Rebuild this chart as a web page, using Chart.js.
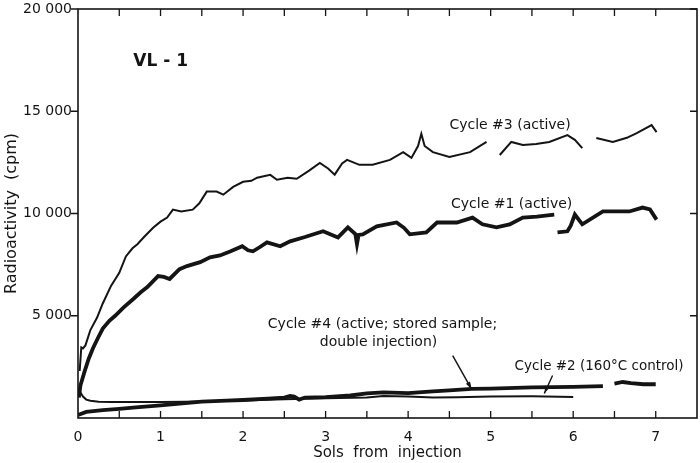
<!DOCTYPE html>
<html>
<head>
<meta charset="utf-8">
<script src="https://cdn.jsdelivr.net/npm/chart.js@4.4.1/dist/chart.umd.min.js"></script>
<style>
  html, body { margin: 0; padding: 0; background: #fff; }
  #wrap { width: 700px; height: 463px; position: relative; }
</style>
</head>
<body>
<div id="wrap"><canvas id="chart"></canvas></div>
<script>
// values (sols, cpm); null = gap in the trace
const cycle3Sols = [0.02, 0.04, 0.06, 0.09, 0.15, 0.23, 0.30, 0.40, 0.50, 0.58, 0.66, 0.72, 0.80, 0.91, 1.00, 1.08, 1.15, 1.25, 1.39, 1.47, 1.56, 1.68, 1.76, 1.88, 2.00, 2.10, 2.17, 2.33, 2.41, 2.54, 2.65, 2.80, 2.93, 3.03, 3.11, 3.20, 3.26, 3.41, 3.57, 3.78, 3.94, 4.04, 4.12, 4.16, 4.20, 4.30, 4.50, 4.75, 4.95, 5.03, 5.11, 5.25, 5.39, 5.55, 5.71, 5.93, 6.02, 6.11, 6.20, 6.28, 6.48, 6.65, 6.77, 6.95, 7.01];
const cycle3Cpm = [2300, 3450, 3400, 3550, 4300, 4900, 5600, 6460, 7100, 7900, 8300, 8500, 8850, 9300, 9600, 9800, 10190, 10100, 10190, 10500, 11070, 11070, 10920, 11300, 11550, 11600, 11750, 11890, 11650, 11750, 11700, 12100, 12470, 12200, 11900, 12450, 12620, 12380, 12380, 12620, 13000, 12720, 13300, 13900, 13300, 13000, 12770, 13000, 13500, null, 12860, 13500, 13350, 13400, 13500, 13830, 13600, 13200, null, 13690, 13500, 13700, 13930, 14320, 13980];

const cycle1Sols = [0.01, 0.03, 0.08, 0.13, 0.18, 0.24, 0.30, 0.38, 0.45, 0.55, 0.67, 0.76, 0.84, 0.97, 1.04, 1.11, 1.23, 1.32, 1.48, 1.60, 1.72, 1.85, 1.99, 2.06, 2.12, 2.20, 2.29, 2.45, 2.57, 2.75, 2.97, 3.15, 3.27, 3.36, 3.38, 3.40, 3.45, 3.62, 3.86, 3.95, 4.02, 4.22, 4.35, 4.59, 4.78, 4.90, 5.07, 5.23, 5.39, 5.56, 5.77, 5.79, 5.81, 5.93, 5.97, 6.02, 6.11, 6.36, 6.68, 6.84, 6.93, 7.01];
const cycle1Cpm = [1000, 1600, 2280, 2900, 3400, 3900, 4370, 4750, 5000, 5400, 5820, 6150, 6400, 6940, 6900, 6800, 7280, 7430, 7620, 7860, 7950, 8150, 8400, 8200, 8150, 8350, 8590, 8400, 8640, 8850, 9130, 8830, 9320, 9000, 8500, 8950, 8980, 9370, 9560, 9300, 8980, 9080, 9560, 9560, 9800, 9470, 9320, 9470, 9800, 9850, 9950, null, 9080, 9130, 9400, 9950, 9470, 10100, 10100, 10290, 10200, 9700];

const cycle4Sols = [0.0, 0.1, 0.3, 0.5, 0.7, 1.0, 1.3, 1.5, 1.8, 2.0, 2.3, 2.5, 2.57, 2.62, 2.68, 2.75, 3.0, 3.3, 3.5, 3.7, 4.0, 4.3, 4.5, 4.77, 5.0, 5.5, 6.0, 6.36, 6.43, 6.5, 6.6, 6.7, 6.85, 7.0];
const cycle4Cpm = [150, 300, 380, 450, 520, 620, 730, 800, 850, 880, 950, 1000, 1080, 1050, 900, 1000, 1020, 1100, 1200, 1250, 1220, 1300, 1350, 1420, 1440, 1500, 1520, 1560, null, 1680, 1760, 1700, 1650, 1650];

const cycle2Sols = [0.01, 0.03, 0.06, 0.10, 0.15, 0.25, 0.40, 0.70, 1.00, 1.30, 1.60, 2.00, 2.50, 3.00, 3.50, 3.70, 4.00, 4.30, 4.60, 5.00, 5.50, 6.00];
const cycle2Cpm = [1500, 1250, 1050, 900, 840, 800, 780, 780, 780, 790, 820, 860, 920, 960, 1000, 1080, 1050, 1000, 1020, 1050, 1060, 1030];

const yTickValues = [0, 5000, 10000, 15000, 20000];
const xTickValues = [0, 1, 2, 3, 4, 5, 6, 7];

const toPoints = (xs, ys) => xs.map((x, i) => ({ x: x, y: ys[i] }));

const INK = '#141414';
const FONT = "'DejaVu Sans', 'Liberation Sans', sans-serif";

// labels and arrows, placed in data units
const notes = [
  { text: 'VL - 1', x: 0.67, y: 17450, bold: true, size: 17 },
  { text: 'Cycle #3 (active)', x: 4.5, y: 14300 },
  { text: 'Cycle #1 (active)', x: 4.52, y: 10450 },
  { text: 'Cycle #4 (active; stored sample;', x: 2.3, y: 4600 },
  { text: 'double injection)', x: 2.93, y: 3680 },
  { text: 'Cycle #2 (160\u00b0C control)', x: 5.29, y: 2520, size: 13.5 }
];
const arrows = [
  { from: [4.54, 3050], to: [4.77, 1400] },
  { from: [5.75, 2080], to: [5.65, 1200] }
];

const framePlugin = {
  id: 'frame',
  afterDraw(chart) {
    const { ctx, chartArea: a, scales } = chart;
    const xs = scales.x, ys = scales.y;
    ctx.save();
    ctx.strokeStyle = INK;
    ctx.lineWidth = 1.6;
    ctx.strokeRect(a.left, a.top, a.right - a.left, a.bottom - a.top);
    ctx.lineWidth = 1.3;
    ctx.beginPath();
    // x ticks every half sol, inward on bottom and top
    for (let v = 0.5; v <= 7.01; v += 0.5) {
      const px = xs.getPixelForValue(v);
      ctx.moveTo(px, a.bottom); ctx.lineTo(px, a.bottom - 7);
      ctx.moveTo(px, a.top); ctx.lineTo(px, a.top + 7);
    }
    yTickValues.forEach(v => {
      if (v === 0) return;
      const py = ys.getPixelForValue(v);
      ctx.moveTo(a.left, py); ctx.lineTo(a.left - 7, py);
      ctx.moveTo(a.right, py); ctx.lineTo(a.right - 7, py);
    });
    ctx.stroke();

    // annotations
    ctx.fillStyle = INK;
    ctx.textBaseline = 'middle';
    ctx.textAlign = 'left';
    notes.forEach(n => {
      ctx.font = (n.bold ? 'bold ' : '') + (n.size || 14) + 'px ' + FONT;
      ctx.fillText(n.text, xs.getPixelForValue(n.x), ys.getPixelForValue(n.y));
    });
    ctx.lineWidth = 1.4;
    arrows.forEach(ar => {
      const x0 = xs.getPixelForValue(ar.from[0]), y0 = ys.getPixelForValue(ar.from[1]);
      const x1 = xs.getPixelForValue(ar.to[0]), y1 = ys.getPixelForValue(ar.to[1]);
      ctx.beginPath(); ctx.moveTo(x0, y0); ctx.lineTo(x1, y1); ctx.stroke();
      const ang = Math.atan2(y1 - y0, x1 - x0);
      ctx.beginPath();
      ctx.moveTo(x1, y1);
      ctx.lineTo(x1 - 8 * Math.cos(ang - 0.3), y1 - 8 * Math.sin(ang - 0.3));
      ctx.lineTo(x1 - 8 * Math.cos(ang + 0.3), y1 - 8 * Math.sin(ang + 0.3));
      ctx.closePath(); ctx.fill();
    });
    ctx.restore();
  }
};

const whiteBg = {
  id: 'whiteBg',
  beforeDraw(chart) {
    const c = chart.ctx;
    c.save(); c.fillStyle = '#fff'; c.fillRect(0, 0, chart.width, chart.height); c.restore();
  }
};

const lineSet = (label, xs, ys, w) => ({
  label: label,
  data: toPoints(xs, ys),
  borderColor: INK,
  borderWidth: w,
  pointRadius: 0,
  showLine: true,
  spanGaps: false,
  tension: 0
});

new Chart(document.getElementById('chart'), {
  type: 'scatter',
  data: {
    datasets: [
      lineSet('Cycle #3 (active)', cycle3Sols, cycle3Cpm, 2),
      lineSet('Cycle #1 (active)', cycle1Sols, cycle1Cpm, 3.8),
      lineSet('Cycle #4 (active; stored sample; double injection)', cycle4Sols, cycle4Cpm, 3.8),
      lineSet('Cycle #2 (160\u00b0C control)', cycle2Sols, cycle2Cpm, 2)
    ]
  },
  options: {
    responsive: true,
    maintainAspectRatio: false,
    animation: false,
    layout: { padding: { top: 0, right: 3, left: 0, bottom: 0 } },
    plugins: { legend: { display: false }, tooltip: { enabled: false } },
    scales: {
      x: {
        type: 'linear',
        min: 0,
        max: 7.5,
        afterBuildTicks: s => { s.ticks = xTickValues.map(v => ({ value: v })); },
        afterFit: s => { s.height = 45; },
        grid: { display: false, drawTicks: false },
        border: { display: false },
        ticks: { color: INK, font: { family: FONT, size: 14 }, padding: 11 },
        title: {
          display: true, text: 'Sols  from  injection', color: INK,
          font: { family: FONT, size: 15 }, padding: { top: 0, bottom: 1 }
        }
      },
      y: {
        min: 0,
        max: 20000,
        afterBuildTicks: s => { s.ticks = yTickValues.filter(v => v > 0).map(v => ({ value: v })); },
        afterFit: s => { s.width = 78; s.paddingTop = 9; s.paddingBottom = 0; },
        grid: { display: false, drawTicks: false },
        border: { display: false },
        ticks: {
          color: INK, font: { family: FONT, size: 14 }, padding: 6,
          callback: v => v >= 10000 ? String(v).slice(0, -3) + ' ' + String(v).slice(-3) : (v === 5000 ? '5 000' : v)
        },
        title: {
          display: true, text: 'Radioactivity  (cpm)', color: INK,
          font: { family: FONT, size: 16 }, padding: { top: 2, bottom: 0 }
        }
      }
    }
  },
  plugins: [whiteBg, framePlugin]
});
</script>
</body>
</html>
